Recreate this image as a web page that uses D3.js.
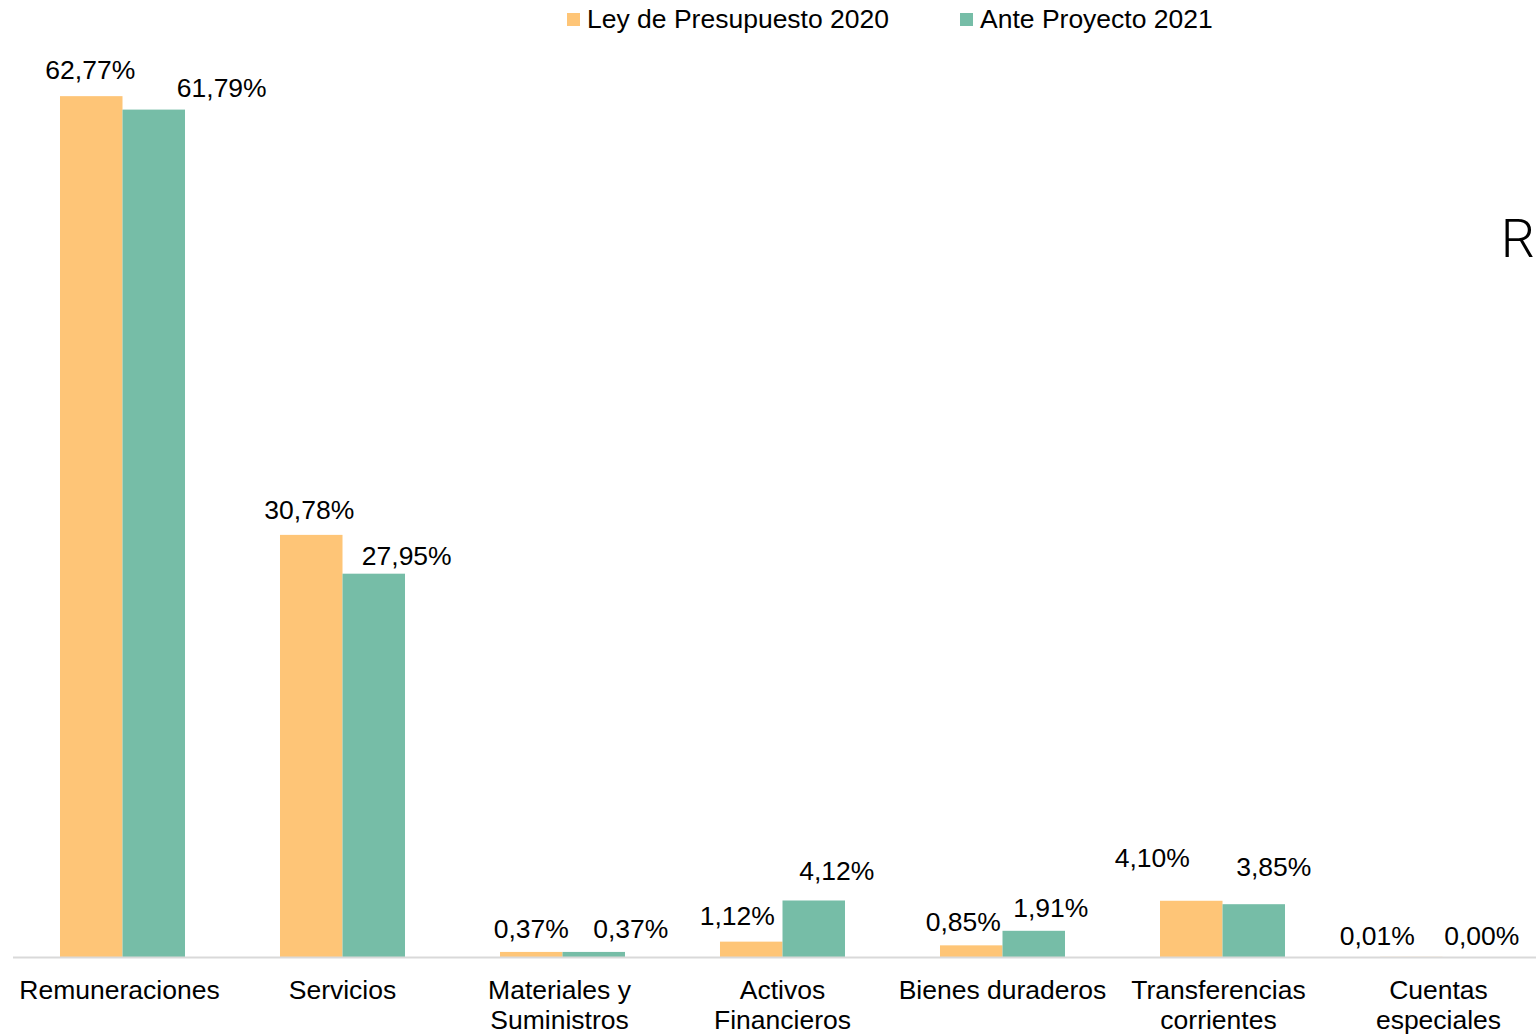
<!DOCTYPE html>
<html lang="es">
<head>
<meta charset="utf-8">
<title>Distribución del presupuesto por grupo de gasto</title>
<script src="https://cdn.jsdelivr.net/npm/d3@7"></script>
<style>
  html, body { margin: 0; padding: 0; background: #ffffff; }
  svg { display: block; font-family: "Liberation Sans", Arial, sans-serif; }
</style>
</head>
<body>
<svg id="chart" width="1536" height="1034"></svg>
<script>
// Grupos de gasto (each entry is one label line)
const categories = [
  ["Remuneraciones"],
  ["Servicios"],
  ["Materiales y", "Suministros"],
  ["Activos", "Financieros"],
  ["Bienes duraderos"],
  ["Transferencias", "corrientes"],
  ["Cuentas", "especiales"]
];

// Participación porcentual de cada grupo
const seriesNames = ["Ley de Presupuesto 2020", "Ante Proyecto 2021"];
const ley2020 = [62.77, 30.78, 0.37, 1.12, 0.85, 4.10, 0.01];
const ante2021 = [61.79, 27.95, 0.37, 4.12, 1.91, 3.85, 0.00];

// Manual nudges for the data labels, [dx, dy] from the default spot above each bar
const labelNudge2020 = [[-1, -3], [-2, -2], [0, 0], [-14, -3], [-8, 0], [-39, -20], [-34, 2]];
const labelNudge2021 = [[68, 1], [33, 5], [37, 0], [23, -6], [17, 0], [20, -14], [8, 2]];
// Small horizontal nudges for the category labels
const catNudge = [-3, 0, -3, 0, 0, -4, -4];

const colors = ["#FEC577", "#76BDA7"];
const fontSize = 26.5;

const svg = d3.select("#chart");
const W = 1536, H = 1034;
svg.append("rect").attr("width", W).attr("height", H).attr("fill", "#ffffff");

const catKeys = categories.map(c => c.join(" "));
const x = d3.scaleBand()
  .domain(catKeys)
  .range([12.5, 1552.5])
  .paddingInner(0.4318)
  .paddingOuter(0.2159);

const xs = d3.scaleBand()
  .domain(seriesNames)
  .range([0, x.bandwidth()]);

const y = d3.scaleLinear().domain([0, 70]).range([957, -3]);

const rows = catKeys.map((k, i) => ({
  key: k,
  lines: categories[i],
  nudge: catNudge[i],
  values: [
    { series: seriesNames[0], v: ley2020[i], nudge: labelNudge2020[i], color: colors[0] },
    { series: seriesNames[1], v: ante2021[i], nudge: labelNudge2021[i], color: colors[1] }
  ]
}));

// Bars
const groups = svg.append("g").selectAll("g.grp")
  .data(rows).join("g")
  .attr("class", "grp")
  .attr("transform", d => `translate(${x(d.key)},0)`);

groups.selectAll("rect")
  .data(d => d.values).join("rect")
  .attr("x", d => xs(d.series))
  .attr("width", xs.bandwidth())
  .attr("y", d => y(d.v))
  .attr("height", d => y(0) - y(d.v))
  .attr("fill", d => d.color);

// Category axis line
svg.append("line")
  .attr("x1", 13).attr("x2", W)
  .attr("y1", y(0) + 0.5).attr("y2", y(0) + 0.5)
  .attr("stroke", "#d9d9d9").attr("stroke-width", 2);

// Value labels
const fmt = v => v.toFixed(2).replace(".", ",") + "%";
groups.selectAll("text.val")
  .data(d => d.values).join("text")
  .attr("class", "val")
  .attr("x", d => xs(d.series) + xs.bandwidth() / 2 + d.nudge[0])
  .attr("y", d => y(d.v) - 14 + d.nudge[1])
  .attr("text-anchor", "middle")
  .attr("font-size", fontSize)
  .attr("fill", "#000")
  .text(d => fmt(d.v));

// Category labels
const catLabels = svg.append("g").selectAll("text.cat")
  .data(rows).join("text")
  .attr("class", "cat")
  .attr("x", d => x(d.key) + x.bandwidth() / 2 + d.nudge)
  .attr("y", 999)
  .attr("text-anchor", "middle")
  .attr("font-size", fontSize)
  .attr("fill", "#000");
catLabels.selectAll("tspan")
  .data(d => d.lines.map(l => ({ l, cx: x(d.key) + x.bandwidth() / 2 + d.nudge })))
  .join("tspan")
  .attr("x", d => d.cx)
  .attr("dy", (d, i) => i === 0 ? 0 : 30)
  .text(d => d.l);

// Legend
const legendX = [567, 960];
const legend = svg.append("g").selectAll("g.leg")
  .data(seriesNames).join("g")
  .attr("class", "leg")
  .attr("transform", (d, i) => `translate(${legendX[i]},0)`);
legend.append("rect")
  .attr("x", 0).attr("y", 13).attr("width", 13).attr("height", 13)
  .attr("fill", (d, i) => colors[i]);
legend.append("text")
  .attr("x", 20).attr("y", 28)
  .attr("font-size", fontSize)
  .attr("fill", "#000")
  .text(d => d);

// Edge of a neighbouring heading
svg.append("text")
  .attr("x", 1535).attr("y", 257)
  .attr("text-anchor", "end")
  .attr("font-size", 54)
  .attr("font-weight", 300)
  .style("font-family", "Roboto, 'Liberation Sans', sans-serif")
  .attr("fill", "#000")
  .text("R");
</script>
</body>
</html>
